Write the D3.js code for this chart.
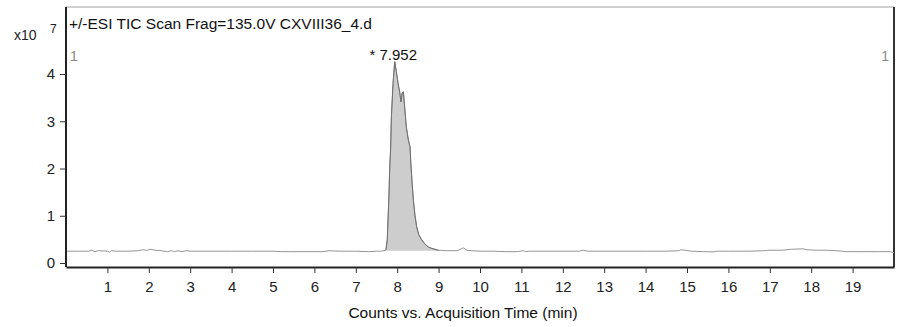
<!DOCTYPE html>
<html>
<head>
<meta charset="utf-8">
<script src="https://cdn.jsdelivr.net/npm/d3@7"></script>
<style>
html,body{margin:0;padding:0;background:#fff;}
svg text{font-family:"Liberation Sans",Arial,sans-serif;}
</style>
</head>
<body>
<svg id="chart" width="899" height="327"></svg>
<script>
// Acquisition time (min)
const times = [0.00,0.30,0.55,0.62,0.70,0.78,1.00,1.05,1.10,1.20,1.50,1.75,1.85,1.95,2.05,2.15,2.30,2.45,2.55,2.62,2.70,2.80,2.90,3.00,3.50,4.00,4.50,5.00,5.20,5.40,5.80,6.20,6.35,6.60,7.00,7.30,7.50,7.60,7.70,7.73,7.76,7.80,7.82,7.84,7.86,7.90,7.94,7.98,8.02,8.06,8.09,8.12,8.15,8.18,8.22,8.27,8.31,8.33,8.36,8.39,8.43,8.47,8.52,8.59,8.67,8.75,8.83,8.91,9.00,9.20,9.45,9.55,9.60,9.68,9.80,10.00,10.30,10.60,10.90,11.05,11.10,11.20,11.50,12.00,12.40,12.50,12.60,12.80,13.00,13.50,14.00,14.50,14.80,14.85,14.95,15.10,15.40,15.65,15.70,16.00,16.50,16.85,16.95,17.30,17.50,17.80,17.90,18.15,18.40,18.60,18.75,18.85,19.20,19.60,19.90,20.00];
// TIC counts (x10^7)
const counts = [0.25,0.25,0.25,0.27,0.24,0.26,0.25,0.23,0.26,0.25,0.25,0.26,0.28,0.27,0.29,0.27,0.26,0.24,0.26,0.24,0.26,0.24,0.26,0.25,0.25,0.25,0.25,0.25,0.24,0.24,0.24,0.24,0.26,0.25,0.25,0.24,0.25,0.25,0.26,0.29,0.49,1.40,2.04,2.39,3.10,3.80,4.26,4.05,3.80,3.62,3.41,3.60,3.62,3.30,2.88,2.60,2.46,2.10,1.70,1.33,1.00,0.77,0.60,0.49,0.40,0.34,0.31,0.29,0.27,0.26,0.26,0.30,0.32,0.27,0.26,0.25,0.25,0.24,0.24,0.26,0.24,0.25,0.25,0.25,0.25,0.27,0.25,0.25,0.25,0.25,0.25,0.25,0.26,0.28,0.27,0.25,0.24,0.235,0.25,0.25,0.25,0.26,0.27,0.27,0.29,0.30,0.28,0.27,0.27,0.26,0.25,0.24,0.24,0.24,0.24,0.22];
const xTicks = [1,2,3,4,5,6,7,8,9,10,11,12,13,14,15,16,17,18,19];
const yTicks = [0,1,2,3,4];
const peakStart = 7.70, peakEnd = 9.00, peakBase = 0.26;

const svg = d3.select("#chart");
const pLeft = 66, pRight = 894, pTop = 7, pBottom = 267;
const x = d3.scaleLinear().domain([0, 20]).range([pLeft, pRight]);
const y = d3.scaleLinear().domain([0, 4]).range([263, 74]);

const data = times.map((t, i) => ({t, v: counts[i]}));

// frame
svg.append("line").attr("x1", pLeft).attr("x2", pRight).attr("y1", pTop).attr("y2", pTop)
  .attr("stroke", "#c0c0c0").attr("stroke-width", 1.5);
svg.append("line").attr("x1", pRight).attr("x2", pRight).attr("y1", pTop).attr("y2", pBottom)
  .attr("stroke", "#333").attr("stroke-width", 2);

// peak fill
const peak = data.filter(d => d.t >= peakStart && d.t <= peakEnd);
svg.append("path").datum(peak)
  .attr("d", d3.area().x(d => x(d.t)).y0(y(peakBase)).y1(d => y(d.v)))
  .attr("fill", "#cdcdcd").attr("stroke", "none");

// trace
svg.append("path").datum(data)
  .attr("d", d3.line().x(d => x(d.t)).y(d => y(d.v)))
  .attr("fill", "none").attr("stroke", "#959595").attr("stroke-width", 1);
svg.append("path").datum(peak)
  .attr("d", d3.line().x(d => x(d.t)).y(d => y(d.v)))
  .attr("fill", "none").attr("stroke", "#707070").attr("stroke-width", 1);

// axes
const xAxis = svg.append("g").attr("transform", `translate(0,${pBottom})`)
  .call(d3.axisBottom(x).tickValues(xTicks).tickFormat(d3.format("d")).tickSize(6).tickSizeOuter(0).tickPadding(8));
xAxis.select(".domain").attr("stroke", "#222").attr("stroke-width", 2);
xAxis.selectAll(".tick line").attr("stroke", "#333");
xAxis.selectAll("text").attr("font-size", 15).attr("fill", "#222")
  .attr("font-family", "Liberation Sans, Arial, sans-serif");

const yAxis = svg.append("g").attr("transform", `translate(${pLeft},0)`)
  .call(d3.axisLeft(y).tickValues(yTicks).tickFormat(d3.format("d")).tickSize(6).tickSizeOuter(0).tickPadding(5));
yAxis.select(".domain").attr("d", `M0,${pTop}V${pBottom}`).attr("stroke", "#222").attr("stroke-width", 2);
yAxis.selectAll(".tick line").attr("stroke", "#333");
yAxis.selectAll("text").attr("font-size", 15).attr("fill", "#222")
  .attr("font-family", "Liberation Sans, Arial, sans-serif");

// texts
svg.append("text").attr("x", 14).attr("y", 40).attr("font-size", 14).attr("fill", "#222").text("x10");
svg.append("text").attr("x", 50).attr("y", 33).attr("font-size", 12).attr("fill", "#222").text("7");
svg.append("text").attr("x", 69).attr("y", 29).attr("font-size", 15.5).attr("fill", "#111")
  .text("+/-ESI TIC Scan Frag=135.0V CXVIII36_4.d");
svg.append("text").attr("x", 70).attr("y", 61).attr("font-size", 14).attr("fill", "#888").text("1");
svg.append("text").attr("x", 889).attr("y", 61).attr("font-size", 14).attr("fill", "#888")
  .attr("text-anchor", "end").text("1");
svg.append("text").attr("x", x(7.952) - 2).attr("y", 60).attr("font-size", 15).attr("fill", "#111")
  .attr("text-anchor", "middle").text("* 7.952");
svg.append("text").attr("x", 463).attr("y", 318).attr("font-size", 15.5).attr("fill", "#111")
  .attr("text-anchor", "middle").text("Counts vs. Acquisition Time (min)");
</script>
</body>
</html>
